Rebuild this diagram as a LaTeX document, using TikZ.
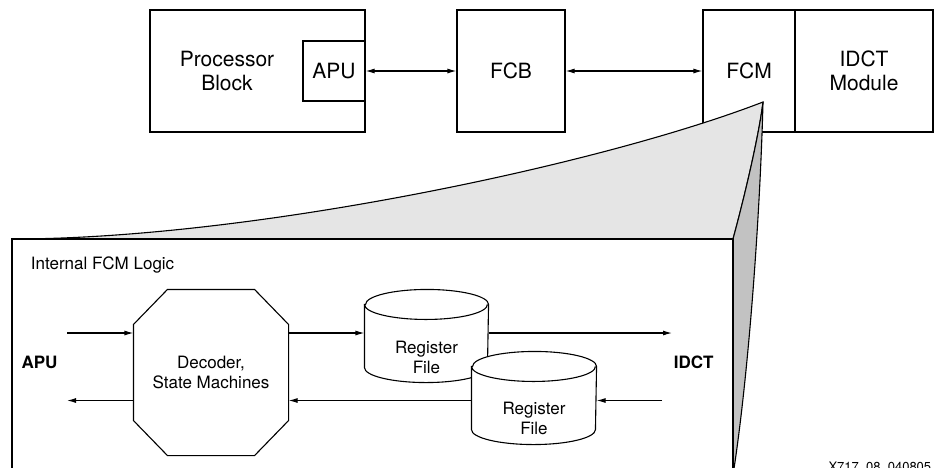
\documentclass[tikz,border=0pt]{standalone}
\usepackage{fontspec}
\setmainfont{TeX Gyre Heros}
\usetikzlibrary{arrows.meta,calc}
\definecolor{facelight}{gray}{0.90}
\definecolor{facedark}{gray}{0.76}
\begin{document}
\begin{tikzpicture}[x=1pt,y=1pt,
  line width=1.1pt,
  bigtxt/.style={font=\fontsize{21}{24}\selectfont,align=center},
  midtxt/.style={font=\fontsize{17}{20}\selectfont,align=center},
  blk/.style={draw,rectangle,inner sep=0pt},
  holder/.style={rectangle,inner sep=0pt},
  arr/.style={-{Latex[length=9pt,width=5pt]}},
  darr/.style={{Latex[length=9pt,width=5pt]}-{Latex[length=9pt,width=5pt]}}]
\useasboundingbox (0,0) rectangle (934,-467);

% ---- top level system ----
\node[blk,minimum width=215,minimum height=122] (pb) at (257.5,-71) {};
\node[bigtxt] (pbt) at (227,-71) {Processor\\Block};
\node[blk,minimum width=62,minimum height=60,bigtxt] (apu) at (334,-71) {APU};
\node[blk,minimum width=108,minimum height=122,bigtxt] (fcb) at (511,-71) {FCB};
\node[blk,minimum width=92,minimum height=122,bigtxt] (fcm) at (749,-71) {FCM};
\node[blk,minimum width=138,minimum height=122,bigtxt] (idct) at (864,-71) {IDCT\\Module};
\draw[darr] (apu.east) -- (fcb.west);
\draw[darr] (fcb.east) -- (fcm.west);

% ---- zoom-out of the FCM ----
\coordinate (apex) at (763,-102);
\fill[facelight,draw=black] (12,-239) .. controls (250,-239) and (600,-165) .. (apex)
   .. controls (759,-135) and (745,-195) .. (733,-239) -- cycle;
\fill[facedark,draw=black] (apex) .. controls (759,-135) and (745,-195) .. (733,-239)
   -- (733,-475) .. controls (748,-380) and (760,-220) .. (apex) -- cycle;
\fill[white] (12,-239) rectangle (733,-480);
\draw[line width=1.5pt] (12,-480) -- (12,-239) -- (733,-239) -- (733,-480);

\node[midtxt,anchor=west] (title) at (27,-265) {Internal FCM Logic};

% decoder octagon
\node[holder,minimum width=154,minimum height=165,midtxt] (dec) at (211,-372.5) {Decoder,\\State Machines};
\draw ([xshift=34]dec.north west) -- ([xshift=-34]dec.north east)
   -- ([yshift=-35]dec.north east) -- ([yshift=35]dec.south east)
   -- ([xshift=-34]dec.south east) -- ([xshift=34]dec.south west)
   -- ([yshift=35]dec.south west) -- ([yshift=-35]dec.north west) -- cycle;

% register files (drums)
\node[holder,minimum width=123,minimum height=92] (rf1) at (426.5,-336) {};
\node[holder,minimum width=124,minimum height=92] (rf2) at (534,-398) {};
\foreach \r/\rx in {rf1/61.5,rf2/62}{
  \filldraw[fill=white] ($(\r.north west)+(0,-15)$) -- ($(\r.south west)+(0,15)$)
     arc[start angle=180,end angle=360,x radius=\rx,y radius=15]
     -- ($(\r.north east)+(0,-15)$)
     arc[start angle=0,end angle=180,x radius=\rx,y radius=15] -- cycle;
  \draw ($(\r.north west)+(0,-15)$) arc[start angle=180,end angle=360,x radius=\rx,y radius=15];
}
\node[midtxt] (rf1t) at (426.5,-357) {Register\\File};
\node[midtxt] (rf2t) at (534,-418) {Register\\File};

% side labels
\node[midtxt,font=\fontsize{17}{20}\selectfont\bfseries] (apul) at (39.5,-362) {APU};
\node[midtxt,font=\fontsize{17}{20}\selectfont\bfseries,anchor=west] (idl) at (670,-362) {IDCT};

% data paths
\coordinate (rowin) at (0,-333);
\coordinate (rowout) at (0,-400.5);
\coordinate (apuin) at (67,-333);
\coordinate (apuout) at (67,-400.5);
\coordinate (idin) at (672,-333);
\coordinate (idout) at (662,-400.5);
\draw[arr] (apuin) -- (dec.west|-rowin);
\draw[arr] (dec.west|-rowout) -- (apuout);
\draw[arr] (dec.east|-rowin) -- (rf1.west|-rowin);
\draw[arr] (rf1.east|-rowin) -- (idin);
\draw[arr] (idout) -- (rf2.east|-rowout);
\draw[arr] (rf2.west|-rowout) -- (dec.east|-rowout);

\node[anchor=base west,inner sep=0pt,font=\fontsize{13}{15}\selectfont] (fig) at (828,-471) {X717\_08\_040805};
\end{tikzpicture}
\end{document}
